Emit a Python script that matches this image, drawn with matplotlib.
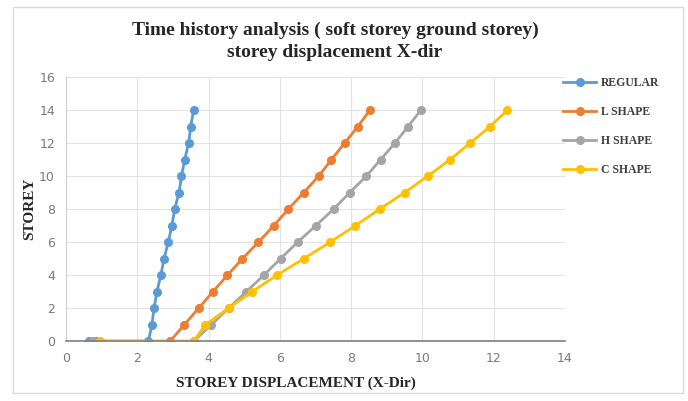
import matplotlib.pyplot as plt
from matplotlib.patches import Rectangle

# storey levels: base point, ground storey, then storeys 1..14
storey = [0, 0] + list(range(1, 15))

regular = [0.65, 2.31, 2.41, 2.47, 2.55, 2.66, 2.75, 2.87, 2.97, 3.05,
           3.17, 3.24, 3.33, 3.44, 3.50, 3.58]
l_shape = [0.85, 2.92, 3.32, 3.72, 4.12, 4.53, 4.95, 5.40, 5.83, 6.24,
           6.67, 7.09, 7.45, 7.82, 8.19, 8.53]
h_shape = [0.75, 3.58, 4.08, 4.56, 5.06, 5.55, 6.02, 6.50, 7.01, 7.51,
           7.96, 8.43, 8.83, 9.23, 9.60, 9.96]
c_shape = [0.95, 3.58, 3.91, 4.56, 5.22, 5.92, 6.67, 7.41, 8.12, 8.80,
           9.50, 10.15, 10.78, 11.34, 11.90, 12.39]

names = ['REGULAR', 'L SHAPE', 'H SHAPE', 'C SHAPE']
colors = ['#5B9BD5', '#ED7D31', '#A5A5A5', '#FFC000']
xticks = list(range(0, 15, 2))
yticks = list(range(0, 17, 2))

serif = 'Liberation Serif'

fig = plt.figure(figsize=(6.88, 4.01), dpi=100)
fig.patches.append(Rectangle((0.019, 0.02), 0.974, 0.962, transform=fig.transFigure,
                             fill=False, edgecolor='#D9D9D9', lw=1))
ax = fig.add_axes([0.096, 0.149, 0.725, 0.659])

for xs, name, c in zip([regular, l_shape, h_shape, c_shape], names, colors):
    ax.plot(xs, storey, color=c, lw=2, marker='o', ms=5.5, label=name)

ax.set_xlim(0, 14)
ax.set_ylim(0, 16)
ax.set_xticks(xticks)
ax.set_yticks(yticks)
ax.grid(True, color='#E3E3E3', lw=0.8)
ax.set_axisbelow(True)
for s in ['top', 'right']:
    ax.spines[s].set_visible(False)
ax.spines['left'].set_color('#D0D0D0')
ax.spines['bottom'].set_color('#7F7F7F')
ax.spines['bottom'].set_linewidth(1.2)
ax.tick_params(length=0, labelsize=9, labelcolor='#7A7A7A', pad=8)

ax.set_xlabel('STOREY DISPLACEMENT (X-Dir)', fontsize=11, fontweight='bold',
              family=serif, color='#262626')
ax.xaxis.set_label_coords(0.46, -0.135)
ax.set_ylabel('STOREY', fontsize=11, fontweight='bold', family=serif,
              color='#262626')
ax.yaxis.set_label_coords(-0.06, 0.5)

fig.text(0.487, 0.925, 'Time history analysis ( soft storey ground storey)',
         ha='center', va='center', fontsize=14, fontweight='bold', family=serif,
         color='#262626')
fig.text(0.487, 0.87, 'storey displacement X-dir', ha='center', va='center',
         fontsize=14, fontweight='bold', family=serif, color='#262626')

leg = ax.legend(loc='upper left', bbox_to_anchor=(0.975, 1.04), frameon=False,
                prop={'family': serif, 'weight': 'bold', 'size': 8.5},
                handlelength=2.8, labelspacing=1.45, handletextpad=0.4)
for t in leg.get_texts():
    t.set_color('#404040')

fig.savefig('out.png', dpi=100)
